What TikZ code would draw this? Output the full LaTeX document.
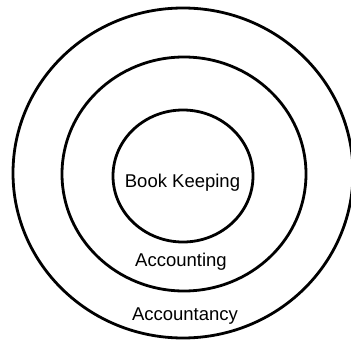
\documentclass[tikz,border=0pt]{standalone}
\usepackage{fontspec}
\setmainfont{Liberation Sans}
\begin{document}
\begin{tikzpicture}[x=1pt,y=1pt,
  ring/.style={draw=black, line width=2.8pt},
  lbl/.style={font=\fontsize{18.5}{21}\selectfont, inner sep=0pt, anchor=base}]
\useasboundingbox (0,0) rectangle (351,341);
\coordinate (outer) at (183,168);
\coordinate (middle) at (184,167);
\coordinate (inner) at (183,165);
\draw[ring] (outer) ellipse [x radius=170, y radius=165];
\draw[ring] (middle) ellipse [x radius=122, y radius=117];
\draw[ring] (inner) ellipse [x radius=70, y radius=66];
\node[lbl] (bk) at (182.5,154) {Book Keeping};
\node[lbl] (acg) at (181,75) {Accounting};
\node[lbl] (acy) at (185,21) {Accountancy};
\end{tikzpicture}
\end{document}
